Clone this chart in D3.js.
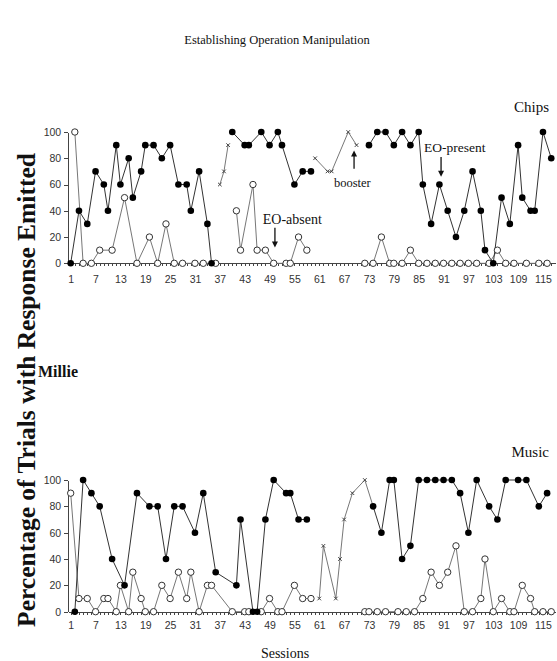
<!DOCTYPE html>
<html>
<head>
<meta charset="utf-8">
<script src="https://cdn.jsdelivr.net/npm/d3@7"></script>
<style>
  body { margin: 0; background: #fff; }
  svg text { font-family: "Liberation Serif", "Times New Roman", serif; fill: #111; }
  .axis text { font-family: "Liberation Sans", Arial, sans-serif; font-size: 10.5px; fill: #333; }
  .axis path, .axis line { stroke: #444; shape-rendering: crispEdges; }
</style>
</head>
<body>
<div id="chart"></div>
<script>
// tick labels
const sessionLabels = [1, 7, 13, 19, 25, 31, 37, 43, 49, 55, 61, 67, 73, 79, 85, 91, 97, 103, 109, 115];
const percentTicks = [0, 20, 40, 60, 80, 100];

// Chips: EO-present (filled), EO-absent (open), booster (x). null = break in the line
const chipsPresentSessions = [1, 3, 5, 7, 9, 10, 12, 13, 15, 16, 18, 19, 21, 23, 25, 27, 29, 30, 32, 34, 35, null,
  40, 43, 44, 47, 49, 51, 52, 55, 57, 59, null,
  73, 75, 77, 79, 81, 83, 85, 86, 88, 90, 92, 94, 96, 98, 100, 101, 103, 105, 107, 109, 110, 112, 113, 115, 117];
const chipsPresentValues = [0, 40, 30, 70, 60, 40, 90, 60, 80, 50, 70, 90, 90, 80, 90, 60, 60, 40, 70, 30, 0, null,
  100, 90, 90, 100, 90, 100, 90, 60, 70, 70, null,
  90, 100, 100, 90, 100, 90, 100, 60, 30, 60, 40, 20, 40, 70, 40, 10, 0, 50, 30, 90, 50, 40, 40, 100, 80];

const chipsAbsentSessions = [2, 4, 6, 8, 11, 14, 17, 20, 22, 24, 26, 28, 31, 33, 36, null,
  41, 42, 45, 46, 48, 50, 53, 54, 56, 58, null,
  72, 74, 76, 78, 79, 81, 83, 85, 87, 89, 91, 93, 95, 97, 99, 102, 104, 106, 108, 111, 114, 116];
const chipsAbsentValues = [100, 0, 0, 10, 10, 50, 0, 20, 0, 30, 0, 0, 0, 0, 0, null,
  40, 10, 60, 10, 10, 0, 0, 0, 20, 10, null,
  0, 0, 20, 0, 0, 0, 10, 0, 0, 0, 0, 0, 0, 0, 0, 0, 10, 0, 0, 0, 0, 0];

const chipsBoosterSessions = [37, 38, 39, null, 60, 63, 64, 68, 70];
const chipsBoosterValues = [60, 70, 90, null, 80, 70, 70, 100, 90];

// Music
const musicPresentSessions = [2, 4, 6, 8, 11, 14, 17, 20, 22, 24, 26, 28, 31, 33, 36, 41, 42, 45, 46, 48, 50, 53, 54, 56, 58, null,
  74, 76, 78, 79, 81, 83, 85, 87, 89, 91, 93, 95, 97, 99, 102, 104, 106, 109, 111, 114, 116];
const musicPresentValues = [0, 100, 90, 80, 40, 20, 90, 80, 80, 40, 80, 80, 60, 90, 30, 20, 70, 0, 0, 70, 100, 90, 90, 70, 70, null,
  80, 60, 100, 100, 40, 50, 100, 100, 100, 100, 100, 90, 60, 100, 80, 70, 100, 100, 100, 80, 90];

const musicAbsentSessions = [1, 3, 5, 7, 9, 10, 12, 13, 15, 16, 18, 19, 21, 23, 25, 27, 29, 30, 32, 34, 35, 40, 43, 44, 47, 49, 51, 52, 55, 57, 59, null,
  72, 73, 75, 77, 80, 82, 84, 86, 88, 90, 92, 94, 96, 98, 100, 101, 103, 105, 107, 108, 110, 112, 113, 115, 117];
const musicAbsentValues = [90, 10, 10, 0, 10, 10, 0, 20, 0, 30, 10, 0, 0, 20, 10, 30, 10, 30, 0, 20, 20, 0, 0, 0, 0, 10, 0, 0, 20, 10, 10, null,
  0, 0, 0, 0, 0, 0, 0, 10, 30, 20, 30, 50, 0, 0, 10, 40, 0, 10, 0, 0, 20, 10, 0, 0, 0];

const musicBoosterSessions = [61, 62, 65, 66, 67, 69, 72, 74];
const musicBoosterValues = [10, 50, 10, 40, 70, 90, 100, 80];

const width = 557, height = 661;

const svg = d3.select("#chart").append("svg")
  .attr("width", width)
  .attr("height", height);

// shared session scale, session 1 sits just right of the y axis
const x = d3.scaleLinear().domain([0.4, 118]).range([68.2, 555.4]);

function toPoints(sessions, values) {
  return sessions.map((s, i) => ({ s: s, v: values[i] }));
}

function arrow(g, x0, y0, y1) {
  // vertical arrow from y0 to tip at y1
  let dir = y1 > y0 ? 1 : -1;
  g.append("line")
    .attr("x1", x0).attr("x2", x0)
    .attr("y1", y0).attr("y2", y1 - dir * 5)
    .attr("stroke", "#111").attr("stroke-width", 1.3);
  g.append("path")
    .attr("d", "M" + (x0 - 3) + "," + (y1 - dir * 6) + "L" + (x0 + 3) + "," + (y1 - dir * 6) + "L" + x0 + "," + y1 + "Z")
    .attr("fill", "#111");
}

function drawPanel(opts) {
  let y = d3.scaleLinear().domain([0, 100]).range([opts.bottom, opts.top]);
  let g = svg.append("g");

  // axes
  g.append("g")
    .attr("class", "axis")
    .attr("transform", "translate(0," + opts.bottom + ")")
    .call(d3.axisBottom(x)
      .tickValues(d3.range(1, 118))
      .tickSize(3)
      .tickSizeOuter(0)
      .tickPadding(opts.labelPad)
      .tickFormat(d => sessionLabels.includes(d) ? d : ""));

  g.append("g")
    .attr("class", "axis")
    .attr("transform", "translate(" + x(0.4) + ",0)")
    .call(d3.axisLeft(y).tickValues(percentTicks).tickSize(4).tickSizeOuter(0).tickPadding(3));

  let line = d3.line()
    .defined(d => d.s !== null)
    .x(d => x(d.s))
    .y(d => y(d.v));

  let present = toPoints(opts.present[0], opts.present[1]);
  let absent = toPoints(opts.absent[0], opts.absent[1]);
  let booster = toPoints(opts.booster[0], opts.booster[1]);

  g.append("path").datum(absent).attr("d", line)
    .attr("fill", "none").attr("stroke", "#777").attr("stroke-width", 1);
  g.append("path").datum(booster).attr("d", line)
    .attr("fill", "none").attr("stroke", "#777").attr("stroke-width", 1);
  g.append("path").datum(present).attr("d", line)
    .attr("fill", "none").attr("stroke", "#333").attr("stroke-width", 1);

  g.selectAll(".open").data(absent.filter(d => d.s !== null)).enter()
    .append("circle")
    .attr("cx", d => x(d.s)).attr("cy", d => y(d.v)).attr("r", 3.2)
    .attr("fill", "#fff").attr("stroke", "#333").attr("stroke-width", 1);

  g.selectAll(".boost").data(booster.filter(d => d.s !== null)).enter()
    .append("path")
    .attr("transform", d => "translate(" + x(d.s) + "," + y(d.v) + ")")
    .attr("d", "M-1.8,-1.8L1.8,1.8M-1.8,1.8L1.8,-1.8")
    .attr("stroke", "#444").attr("stroke-width", 1);

  g.selectAll(".filled").data(present.filter(d => d.s !== null)).enter()
    .append("circle")
    .attr("cx", d => x(d.s)).attr("cy", d => y(d.v)).attr("r", 3.3)
    .attr("fill", "#000");

  g.append("text")
    .attr("x", 549).attr("y", opts.labelY)
    .attr("text-anchor", "end")
    .style("font-size", "15px")
    .text(opts.label);

  return { g: g, y: y };
}

// title
svg.append("text")
  .attr("x", 277).attr("y", 44)
  .attr("text-anchor", "middle")
  .style("font-size", "12.5px")
  .text("Establishing Operation Manipulation");

let chips = drawPanel({
  top: 132, bottom: 263.3, labelPad: 9, label: "Chips", labelY: 112,
  present: [chipsPresentSessions, chipsPresentValues],
  absent: [chipsAbsentSessions, chipsAbsentValues],
  booster: [chipsBoosterSessions, chipsBoosterValues]
});

let music = drawPanel({
  top: 480, bottom: 611.7, labelPad: 7, label: "Music", labelY: 457,
  present: [musicPresentSessions, musicPresentValues],
  absent: [musicAbsentSessions, musicAbsentValues],
  booster: [musicBoosterSessions, musicBoosterValues]
});

// annotations on the chips panel
let yc = chips.y;
chips.g.append("text")
  .attr("x", x(54.5)).attr("y", yc(30))
  .attr("text-anchor", "middle").style("font-size", "14px")
  .text("EO-absent");
arrow(chips.g, x(50.3), yc(27), yc(12));

chips.g.append("text")
  .attr("x", x(69)).attr("y", yc(58))
  .attr("text-anchor", "middle").style("font-size", "12.5px")
  .text("booster");
arrow(chips.g, x(69.4), yc(72), yc(86));

chips.g.append("text")
  .attr("x", x(93.7)).attr("y", yc(84.5))
  .attr("text-anchor", "middle").style("font-size", "13.5px")
  .text("EO-present");
arrow(chips.g, x(90.4), yc(81), yc(66));

// participant name
svg.append("text")
  .attr("x", 38).attr("y", 377)
  .style("font-size", "16px").style("font-weight", "bold")
  .text("Millie");

// axis titles
svg.append("text")
  .attr("transform", "translate(35,390) rotate(-90)")
  .attr("text-anchor", "middle")
  .style("font-size", "25.5px").style("font-weight", "bold")
  .text("Percentage of Trials with Response Emitted");

svg.append("text")
  .attr("x", 285).attr("y", 658)
  .attr("text-anchor", "middle")
  .style("font-size", "14px")
  .text("Sessions");
</script>
</body>
</html>
